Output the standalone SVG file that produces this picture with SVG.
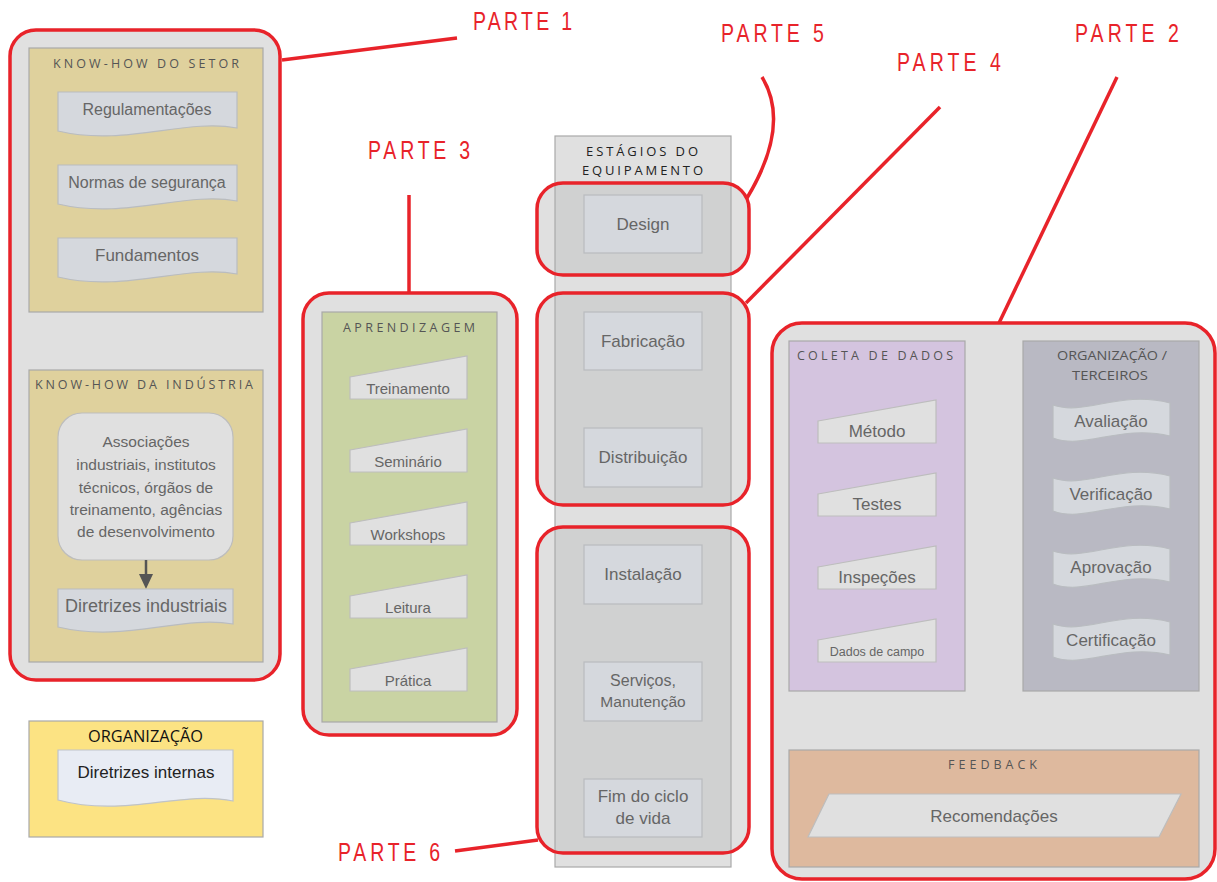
<svg xmlns="http://www.w3.org/2000/svg" width="1217" height="882" viewBox="0 0 1217 882">
<style>
.red{fill:none;stroke:#e8232a;stroke-width:3.5}
.redfill{fill:#e0e0e0;stroke:#e8232a;stroke-width:3.5}
.part{font-family:"Liberation Sans",Arial,sans-serif;font-size:25px;fill:#e8232a}
.ttl{font-family:"Open Sans",sans-serif;font-size:12.5px;fill:#555}
.lbl{font-family:"Liberation Sans",Arial,sans-serif;fill:#666;text-anchor:middle}
.box{stroke:#a9a9a9;stroke-width:1.2}
.doc{fill:#d5d8dd;stroke:#b9bcc0;stroke-width:1.2}
.man{fill:#e0e0e0;stroke:#bdbdbd;stroke-width:1.2}
.stage{fill:#d5d8dd;stroke:#b9bbbe;stroke-width:1.2}
</style>
<defs>
<clipPath id="c5"><rect x="537" y="183" width="212" height="92" rx="26"/></clipPath>
<clipPath id="c4"><rect x="537" y="293" width="212" height="212" rx="26"/></clipPath>
<clipPath id="c6"><rect x="537" y="527" width="212" height="326" rx="26"/></clipPath>
</defs>
<rect width="1217" height="882" fill="#fff"/>

<g id="connectors">
<path class="red" d="M282,60 L457,38"/>
<path class="red" d="M409,195 L409,293"/>
<path class="red" d="M762,77 C782,110 776,150 747,198"/>
<path class="red" d="M940,107 L746,303"/>
<path class="red" d="M1117,77 L999,323"/>
<path class="red" d="M455,851 L538,840"/>
</g>

<g id="labels">
<text class="part" transform="translate(473,30) scale(0.78,1)" textLength="127" lengthAdjust="spacing">PARTE 1</text>
<text class="part" transform="translate(721,42) scale(0.78,1)" textLength="132" lengthAdjust="spacing">PARTE 5</text>
<text class="part" transform="translate(897,71) scale(0.78,1)" textLength="133" lengthAdjust="spacing">PARTE 4</text>
<text class="part" transform="translate(1075,42) scale(0.78,1)" textLength="133" lengthAdjust="spacing">PARTE 2</text>
<text class="part" transform="translate(368,159) scale(0.78,1)" textLength="131" lengthAdjust="spacing">PARTE 3</text>
<text class="part" transform="translate(338,861) scale(0.78,1)" textLength="131" lengthAdjust="spacing">PARTE 6</text>
</g>

<g id="parte1">
<rect class="redfill" x="10" y="30" width="270" height="650" rx="26"/>
<g id="knowhow-setor">
<rect class="box" x="29" y="48" width="234" height="264" fill="#dfd19d"/>
<text class="ttl" x="53" y="68" textLength="186" lengthAdjust="spacing">KNOW-HOW DO SETOR</text>
<path class="doc" d="M58,92 H237 V128 C185,118 125,147 58,131 Z"/>
<text class="lbl" x="147" y="115" font-size="16">Regulamentações</text>
<path class="doc" d="M58,165 H237 V201 C185,191 125,220 58,204 Z"/>
<text class="lbl" x="147" y="188" font-size="16">Normas de segurança</text>
<path class="doc" d="M58,238 H237 V274 C185,264 125,293 58,277 Z"/>
<text class="lbl" x="147" y="261" font-size="17">Fundamentos</text>
</g>
<g id="knowhow-industria">
<rect class="box" x="29" y="370" width="234" height="292" fill="#dfd19d"/>
<text class="ttl" x="35" y="389" textLength="218" lengthAdjust="spacing">KNOW-HOW DA INDÚSTRIA</text>
<rect x="58" y="413" width="175" height="147" rx="24" fill="#e0e0e0" stroke="#bdbdbd" stroke-width="1.2"/>
<text class="lbl" x="146" font-size="15.5"><tspan x="146" y="447">Associações</tspan><tspan x="146" y="470">industriais, institutos</tspan><tspan x="146" y="493">técnicos, órgãos de</tspan><tspan x="146" y="515">treinamento, agências</tspan><tspan x="146" y="537">de desenvolvimento</tspan></text>
<line x1="146" y1="560" x2="146" y2="577" stroke="#555" stroke-width="2.5"/>
<polygon points="139,574 153,574 146,589" fill="#555"/>
<path class="doc" d="M58,589 H233 V624 C180,615 125,643 58,627 Z"/>
<text class="lbl" x="146" y="612" font-size="18">Diretrizes industriais</text>
</g>
</g>

<g id="organizacao">
<rect x="29" y="721" width="234" height="116" fill="#fce383" stroke="#a9a9a9" stroke-width="1.2"/>
<text x="88" y="742" font-family="Open Sans,sans-serif" font-size="16" fill="#111" textLength="115" lengthAdjust="spacingAndGlyphs">ORGANIZAÇÃO</text>
<path d="M58,750 H233 V801 C180,790 125,818 58,800 Z" fill="#e8ecf4" stroke="#bfc3c9" stroke-width="1.2"/>
<text x="146" y="778" font-family="Liberation Sans,Arial,sans-serif" font-size="17" fill="#222" text-anchor="middle">Diretrizes internas</text>
</g>

<g id="parte3">
<rect class="redfill" x="303" y="293" width="214" height="442" rx="26"/>
<rect class="box" x="322" y="312" width="175" height="410" fill="#c9d3a3"/>
<text class="ttl" x="343" y="332" textLength="132" lengthAdjust="spacing">APRENDIZAGEM</text>
<polygon class="man" points="350,377 467,356 467,399 350,399"/>
<text class="lbl" x="408" y="394" font-size="15">Treinamento</text>
<polygon class="man" points="350,450 467,429 467,472 350,472"/>
<text class="lbl" x="408" y="467" font-size="15">Seminário</text>
<polygon class="man" points="350,523 467,502 467,545 350,545"/>
<text class="lbl" x="408" y="540" font-size="15">Workshops</text>
<polygon class="man" points="350,596 467,575 467,618 350,618"/>
<text class="lbl" x="408" y="613" font-size="15">Leitura</text>
<polygon class="man" points="350,669 467,648 467,691 350,691"/>
<text class="lbl" x="408" y="686" font-size="15">Prática</text>
</g>

<g id="estagios">
<rect class="box" x="555" y="136" width="176" height="731" fill="#e0e0e0"/>
<text x="586" y="156" font-family="Open Sans,sans-serif" font-size="13" fill="#222" textLength="112" lengthAdjust="spacing">ESTÁGIOS DO</text>
<text x="582" y="175" font-family="Open Sans,sans-serif" font-size="13" fill="#222" textLength="121" lengthAdjust="spacing">EQUIPAMENTO</text>
</g>

<g id="parte5">
<rect x="537" y="183" width="212" height="92" rx="26" fill="#e0e0e0"/>
<rect class="box" x="555" y="170" width="176" height="120" fill="#d0d1d1" clip-path="url(#c5)"/>
<rect class="stage" x="584" y="195" width="118" height="58"/>
<text class="lbl" x="643" y="230" font-size="17">Design</text>
<rect class="red" x="537" y="183" width="212" height="92" rx="26"/>
</g>

<g id="parte4">
<rect x="537" y="293" width="212" height="212" rx="26" fill="#e0e0e0"/>
<rect class="box" x="555" y="280" width="176" height="240" fill="#d0d1d1" clip-path="url(#c4)"/>
<rect class="stage" x="584" y="312" width="118" height="58"/>
<text class="lbl" x="643" y="347" font-size="17">Fabricação</text>
<rect class="stage" x="584" y="428" width="118" height="59"/>
<text class="lbl" x="643" y="463" font-size="17">Distribuição</text>
<rect class="red" x="537" y="293" width="212" height="212" rx="26"/>
</g>

<g id="parte6">
<rect x="537" y="527" width="212" height="326" rx="26" fill="#e0e0e0"/>
<rect class="box" x="555" y="510" width="176" height="357" fill="#d0d1d1" clip-path="url(#c6)"/>
<rect class="stage" x="584" y="545" width="118" height="59"/>
<text class="lbl" x="643" y="580" font-size="17">Instalação</text>
<rect class="stage" x="584" y="662" width="118" height="59"/>
<text class="lbl" x="643" font-size="16"><tspan x="643" y="686">Serviços,</tspan><tspan x="643" y="707" font-size="15.5">Manutenção</tspan></text>
<rect class="stage" x="584" y="779" width="118" height="58"/>
<text class="lbl" x="643" font-size="17"><tspan x="643" y="802">Fim do ciclo</tspan><tspan x="643" y="824">de vida</tspan></text>
<rect class="red" x="537" y="527" width="212" height="326" rx="26"/>
</g>

<g id="parte2">
<rect class="redfill" x="772" y="323" width="443" height="556" rx="30"/>
<g id="coleta">
<rect class="box" x="789" y="341" width="176" height="350" fill="#d4c4df"/>
<text class="ttl" x="797" y="360" textLength="156" lengthAdjust="spacing" font-size="13">COLETA DE DADOS</text>
<polygon class="man" points="818,421 936,400 936,443 818,443"/>
<text class="lbl" x="877" y="437" font-size="17">Método</text>
<polygon class="man" points="818,494 936,473 936,516 818,516"/>
<text class="lbl" x="877" y="510" font-size="17">Testes</text>
<polygon class="man" points="818,567 936,546 936,589 818,589"/>
<text class="lbl" x="877" y="583" font-size="17">Inspeções</text>
<polygon class="man" points="818,640 936,619 936,662 818,662"/>
<text class="lbl" x="877" y="656" font-size="12.5">Dados de campo</text>
</g>
<g id="org-terceiros">
<rect class="box" x="1023" y="341" width="176" height="350" fill="#b9b9c3"/>
<text class="ttl" x="1057" y="360" font-size="13" textLength="110" lengthAdjust="spacingAndGlyphs">ORGANIZAÇÃO /</text>
<text class="ttl" x="1072" y="380" font-size="13" textLength="76" lengthAdjust="spacingAndGlyphs">TERCEIROS</text>
<path class="doc" d="M1053,405 C1085,416 1120,390 1170,403 V436 C1120,424 1085,450 1053,438 Z"/>
<text class="lbl" x="1111" y="427" font-size="17">Avaliação</text>
<path class="doc" d="M1053,478 C1085,489 1120,463 1170,476 V509 C1120,497 1085,523 1053,511 Z"/>
<text class="lbl" x="1111" y="500" font-size="17">Verificação</text>
<path class="doc" d="M1053,551 C1085,562 1120,536 1170,549 V582 C1120,570 1085,596 1053,584 Z"/>
<text class="lbl" x="1111" y="573" font-size="17">Aprovação</text>
<path class="doc" d="M1053,624 C1085,635 1120,609 1170,622 V655 C1120,643 1085,669 1053,657 Z"/>
<text class="lbl" x="1111" y="646" font-size="17">Certificação</text>
</g>
<g id="feedback">
<rect class="box" x="789" y="750" width="410" height="117" fill="#deb99e"/>
<text class="ttl" x="948" y="769" textLength="89" lengthAdjust="spacing" font-size="13">FEEDBACK</text>
<polygon class="man" points="829,794 1181,794 1159,837 808,837"/>
<text class="lbl" x="994" y="822" font-size="17">Recomendações</text>
</g>
</g>
</svg>
